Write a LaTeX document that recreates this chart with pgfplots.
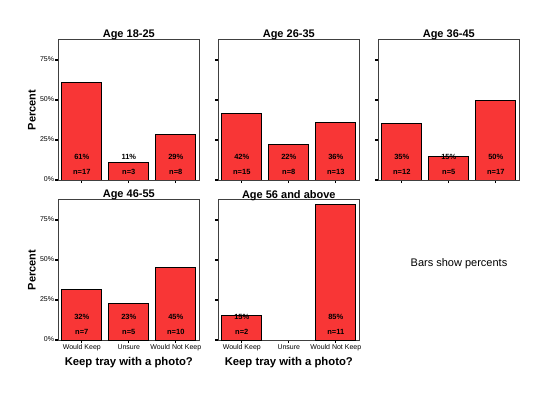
\documentclass[border=0pt]{standalone}
\usepackage{pgfplots}
\pgfplotsset{compat=1.18}
\usepackage{fontspec}
\setmainfont{Liberation Sans}
\definecolor{barred}{RGB}{248,54,54}
\definecolor{framegray}{RGB}{64,64,64}

\pgfplotsset{
 panel/.style={
  scale only axis, width=141pt, height=140.3pt,
  anchor=south west,
  xmin=-0.5, xmax=2.5, ymin=0, ymax=87.7,
  xtick={0,1,2}, ytick={0,25,50,75},
  xtick pos=left, ytick pos=left,
  tick align=outside, major tick length=3pt,
  every tick/.style={black, line width=1.2pt},
  axis line style={framegray, line width=0.8pt},
  title style={font=\bfseries\fontsize{11}{13}\selectfont, at={(axis description cs:0.5,1)}, anchor=center, yshift=-1.5pt},
  ticklabel style={font=\fontsize{7}{8}\selectfont},
  typeset ticklabels with strut,
  yticklabel style={inner sep=1pt},
  xticklabel style={inner sep=1pt},
  xticklabels={}, yticklabels={},
 },
 leftcol/.style={
  yticklabels={0\%,25\%,50\%,75\%},
  ylabel={Percent},
  ylabel style={font=\bfseries\fontsize{11}{13}\selectfont, at={(axis description cs:-0.187,0.5)}, anchor=center},
 },
 bottomrow/.style={
  xticklabels={Would Keep,Unsure,Would Not Keep},
  xlabel={Keep tray with a photo?},
  xlabel style={font=\bfseries\fontsize{11.3}{13}\selectfont, at={(axis description cs:0.5,-0.159)}, anchor=center},
 },
 bars/.style={ybar, bar width=40pt, bar shift=0pt, fill=barred, draw=black, line width=0.8pt},
 labs/.style={draw=none, mark=none, nodes near coords, nodes near coords align={center},
   point meta=explicit symbolic,
   every node near coord/.append style={font=\bfseries\fontsize{7.5}{8}\selectfont, text=black, inner sep=0pt}},
}

\begin{document}
\begin{tikzpicture}
\useasboundingbox (0,0) rectangle (559pt,394pt);

% Age 18-25
\begin{axis}[panel, leftcol, at={(58.3pt,214pt)}, title={Age 18-25}]
\addplot[bars] coordinates {(0,60.7) (1,10.7) (2,28.6)};
\addplot[labs] coordinates {(0,14.6)[61\%] (1,14.6)[11\%] (2,14.6)[29\%] (0,4.8)[n=17] (1,4.8)[n=3] (2,4.8)[n=8]};
\end{axis}

% Age 26-35
\begin{axis}[panel, at={(218.3pt,214pt)}, title={Age 26-35}]
\addplot[bars] coordinates {(0,41.7) (1,22.2) (2,36.1)};
\addplot[labs] coordinates {(0,14.6)[42\%] (1,14.6)[22\%] (2,14.6)[36\%] (0,4.8)[n=15] (1,4.8)[n=8] (2,4.8)[n=13]};
\end{axis}

% Age 36-45
\begin{axis}[panel, at={(378.3pt,214pt)}, title={Age 36-45}]
\addplot[bars] coordinates {(0,35.3) (1,14.7) (2,50.0)};
\addplot[labs] coordinates {(0,14.6)[35\%] (1,14.6)[15\%] (2,14.6)[50\%] (0,4.8)[n=12] (1,4.8)[n=5] (2,4.8)[n=17]};
\end{axis}

% Age 46-55
\begin{axis}[panel, leftcol, bottomrow, at={(58.3pt,54pt)}, title={Age 46-55}]
\addplot[bars] coordinates {(0,31.8) (1,22.7) (2,45.5)};
\addplot[labs] coordinates {(0,14.6)[32\%] (1,14.6)[23\%] (2,14.6)[45\%] (0,4.8)[n=7] (1,4.8)[n=5] (2,4.8)[n=10]};
\end{axis}

% Age 56 and above
\begin{axis}[panel, bottomrow, at={(218.3pt,54pt)}, title={Age 56 and above}]
\addplot[bars] coordinates {(0,15.4) (2,84.6)};
\addplot[labs] coordinates {(0,14.6)[15\%] (2,14.6)[85\%] (0,4.8)[n=2] (2,4.8)[n=11]};
\end{axis}

\node[font=\fontsize{11}{13}\selectfont] at (459pt,130pt) {Bars show percents};
\end{tikzpicture}
\end{document}
